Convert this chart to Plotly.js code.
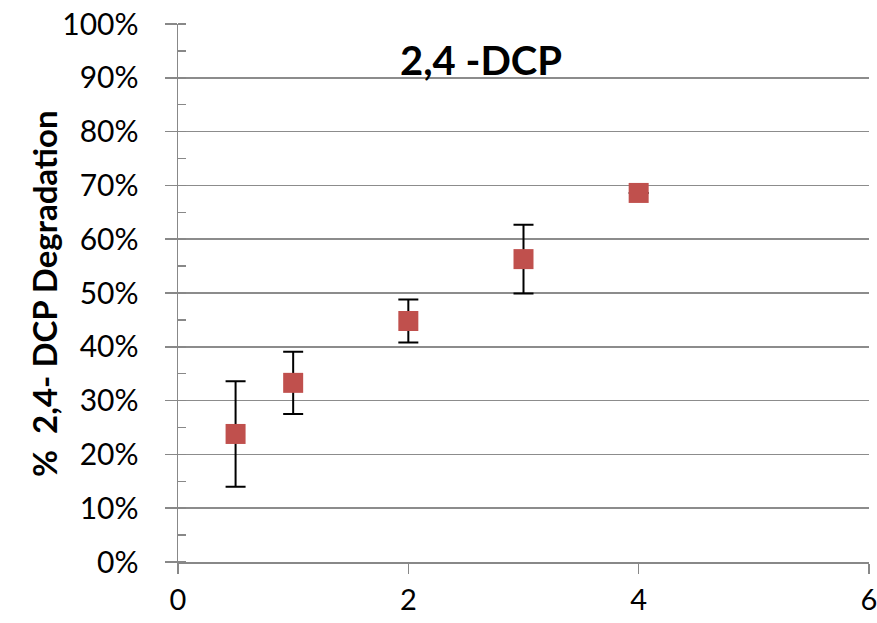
<!DOCTYPE html>
<html>
<head>
<meta charset="utf-8">
<script src="https://cdn.plot.ly/plotly-3.0.1.min.js"></script>
<style>html,body{margin:0;padding:0;background:#fff;}#chart{width:877px;height:623px;}</style>
</head>
<body>
<div id="chart"></div>
<script>
const timeValues = [0.5, 1, 2, 3, 4];
const degradation = [0.238, 0.333, 0.448, 0.563, 0.686];
const errorValues = [0.098, 0.058, 0.040, 0.064, 0];
const yTickVals = [0, 0.1, 0.2, 0.3, 0.4, 0.5, 0.6, 0.7, 0.8, 0.9, 1.0];
const yTickText = ['0%', '10%', '20%', '30%', '40%', '50%', '60%', '70%', '80%', '90%', '100%'];
const xTickVals = [0, 2, 4, 6];
const titleText = '2,4 -DCP';
const yTitleText = '%  2,4- DCP Degradation';

const fontFam = 'Lato, "Open Sans", sans-serif';
const trace = {
  x: timeValues,
  y: degradation,
  type: 'scatter',
  mode: 'markers',
  marker: {symbol: 'square', size: 20, color: '#C0504D', line: {width: 0}},
  error_y: {type: 'data', array: errorValues, visible: true, color: '#000', thickness: 2, width: 10},
  showlegend: false
};
const L = 178, R = 8, T = 24, B = 61;
const pw = 877 - L - R, ph = 623 - T - B;
const layout = {
  width: 877, height: 623,
  margin: {l: L, r: R, t: T, b: B},
  paper_bgcolor: '#fff', plot_bgcolor: '#fff',
  annotations: [
    {text: '<b>' + titleText + '</b>', x: (481 - L) / pw, y: (623 - B - 60) / ph, xref: 'paper', yref: 'paper',
     xanchor: 'center', yanchor: 'middle', showarrow: false, font: {family: fontFam, size: 40, color: '#000'}},
    {text: '<b>' + yTitleText + '</b>', x: (44 - L) / pw, y: (623 - B - 294) / ph, xref: 'paper', yref: 'paper',
     xanchor: 'center', yanchor: 'middle', textangle: -90, showarrow: false, font: {family: fontFam, size: 33, color: '#000'}}
  ],
  xaxis: {
    range: [0, 6], tickvals: xTickVals, ticks: 'outside', ticklen: 10, tickwidth: 1.5, tickcolor: '#888',
    showgrid: false, zeroline: false, showline: true, linecolor: '#888', linewidth: 1.5,
    tickfont: {family: fontFam, size: 29, color: '#000'}, ticklabelstandoff: 2, ticklabeloverflow: 'allow'
  },
  yaxis: {
    range: [0, 1.0], tickvals: yTickVals, ticktext: yTickText, ticks: 'outside', ticklen: 12, tickwidth: 1.5, tickcolor: '#888',
    showgrid: true, gridcolor: '#8c8c8c', gridwidth: 1.5, zeroline: false, showline: true, linecolor: '#888', linewidth: 1.5,
    tickfont: {family: fontFam, size: 30, color: '#000'}, ticklabelstandoff: 20,
    minor: {dtick: 0.05, ticks: 'inside', ticklen: 8, tickwidth: 1.5, tickcolor: '#888', showgrid: false}
  }
};
Plotly.newPlot('chart', [trace], layout, {displayModeBar: false, staticPlot: true});
</script>
</body>
</html>
